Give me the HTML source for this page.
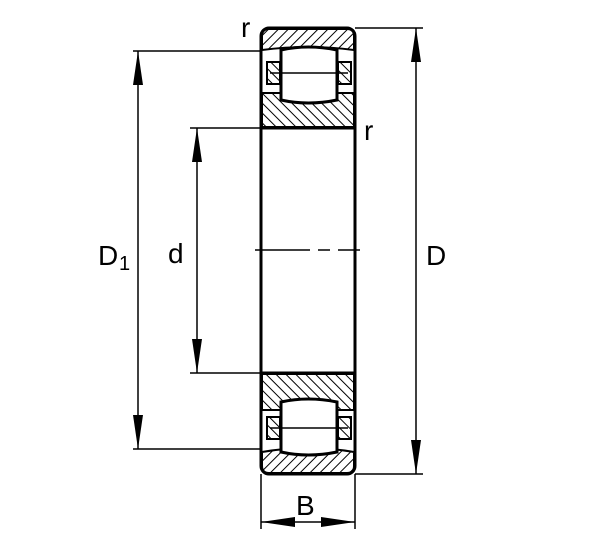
<!DOCTYPE html>
<html><head><style>body{margin:0;background:#fff}svg{display:block}</style></head><body>
<svg width="600" height="542" viewBox="0 0 600 542" xmlns="http://www.w3.org/2000/svg">
<defs>
<pattern id="h1" width="7" height="7" patternUnits="userSpaceOnUse" patternTransform="rotate(45)"><line x1="0" y1="0" x2="0" y2="7" stroke="#000" stroke-width="2"/></pattern>
<pattern id="h2" width="7" height="7" patternUnits="userSpaceOnUse" patternTransform="rotate(-45)"><line x1="0" y1="0" x2="0" y2="7" stroke="#000" stroke-width="2"/></pattern>
</defs>
<g stroke="#000" fill="none">
<!-- body outline -->
<rect x="261" y="28" width="94" height="446" rx="8" stroke-width="3"/>
<line x1="261" y1="128" x2="355" y2="128" stroke-width="3"/>
<line x1="261" y1="373" x2="355" y2="373" stroke-width="3"/>
<!-- top outer ring -->
<path d="M262,50 L262,36 Q262,29 269,29 L347,29 Q354,29 354,36 L354,50 Q308,44 262,50 Z" fill="url(#h1)" stroke-width="2"/>
<!-- top inner ring -->
<path d="M262,93 L282,93 L282,100 Q308,106 336,100 L336,93 L354,93 L354,127 L262,127 Z" fill="url(#h2)" stroke-width="2"/>
<!-- top roller -->
<path d="M281,50 Q308,44 337,50 L337,100 Q308,106 281,100 Z" fill="#fff" stroke-width="3"/>
<rect x="267" y="62" width="13" height="22" fill="url(#h2)" stroke-width="2"/>
<rect x="338" y="62" width="13" height="22" fill="url(#h2)" stroke-width="2"/>
<line x1="270" y1="73" x2="348" y2="73" stroke-width="1.5"/>
<!-- bottom inner ring -->
<path d="M262,374 L354,374 L354,410 L336,410 L336,402 Q308,396 281,402 L281,410 L262,410 Z" fill="url(#h2)" stroke-width="2"/>
<!-- bottom outer ring -->
<path d="M262,452 Q308,444 354,452 L354,466 Q354,473 347,473 L269,473 Q262,473 262,466 Z" fill="url(#h1)" stroke-width="2"/>
<!-- bottom roller -->
<path d="M281,402 Q308,396 337,402 L337,452 Q308,458 281,452 Z" fill="#fff" stroke-width="3"/>
<rect x="267" y="417" width="13" height="22" fill="url(#h2)" stroke-width="2"/>
<rect x="338" y="417" width="13" height="22" fill="url(#h2)" stroke-width="2"/>
<line x1="270" y1="428" x2="348" y2="428" stroke-width="1.5"/>
<!-- center line -->
<path d="M255,250 H310 M318,250 H330 M338,250 H360" stroke-width="1.5"/>
<!-- extension lines -->
<g stroke-width="1.5">
<line x1="133" y1="51" x2="261" y2="51"/>
<line x1="133" y1="449" x2="261" y2="449"/>
<line x1="190" y1="128" x2="261" y2="128"/>
<line x1="190" y1="373" x2="261" y2="373"/>
<line x1="355" y1="28" x2="423" y2="28"/>
<line x1="355" y1="474" x2="423" y2="474"/>
<line x1="261" y1="474" x2="261" y2="529"/>
<line x1="355" y1="474" x2="355" y2="529"/>
<line x1="138" y1="51" x2="138" y2="449"/>
<line x1="197" y1="128" x2="197" y2="373"/>
<line x1="416" y1="28" x2="416" y2="474"/>
<line x1="261" y1="522" x2="355" y2="522"/>
</g>
</g>
<g fill="#000">
<polygon points="138,51 133,85 143,85"/><polygon points="138,449 133,415 143,415"/>
<polygon points="197,128 192,162 202,162"/><polygon points="197,373 192,339 202,339"/>
<polygon points="416,28 411,62 421,62"/><polygon points="416,474 411,440 421,440"/>
<polygon points="261,522 295,517 295,527"/><polygon points="355,522 321,517 321,527"/>
</g>
<g font-family="Liberation Sans, sans-serif" fill="#000">
<text x="98" y="265" font-size="28">D</text><text x="119" y="270" font-size="20">1</text>
<text x="168" y="263" font-size="28">d</text>
<text x="426" y="265" font-size="28">D</text>
<text x="296" y="515" font-size="28">B</text>
<text x="241" y="37" font-size="28">r</text>
<text x="364" y="140" font-size="28">r</text>
</g>
</svg>
</body></html>
